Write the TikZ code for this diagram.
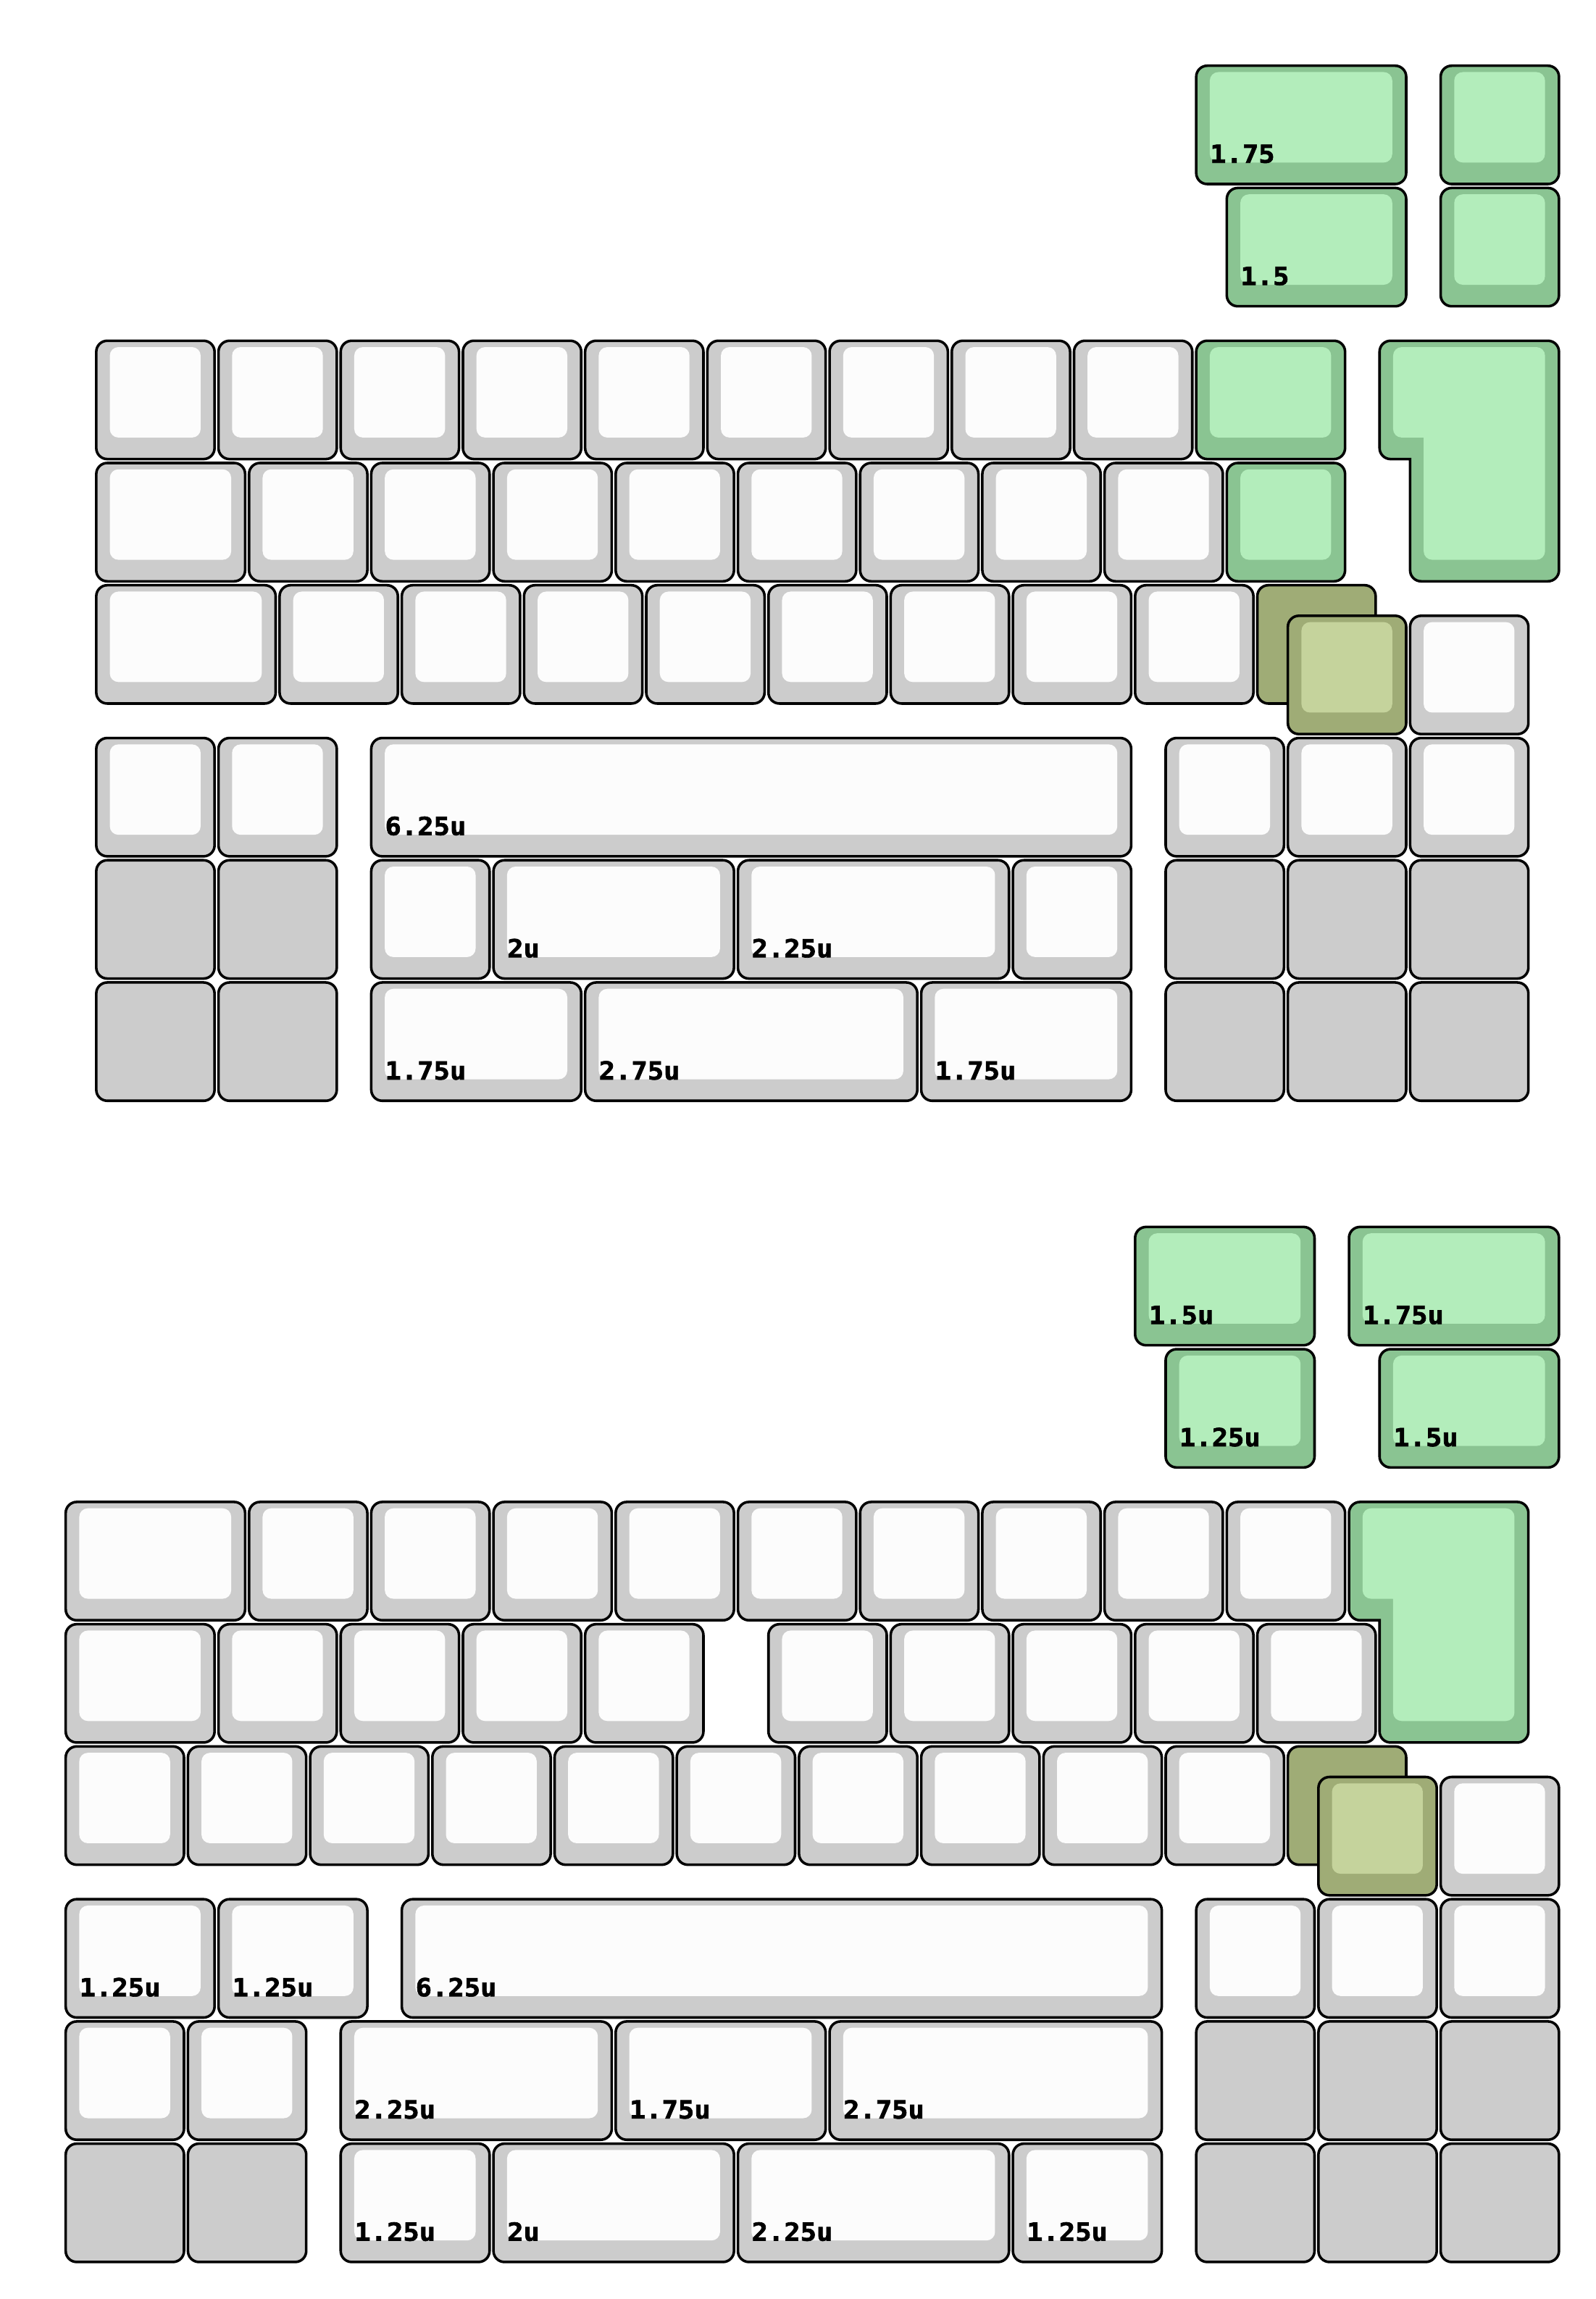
\documentclass[tikz,border=0pt]{standalone}
\usepackage{fontspec}
\newfontfamily\capfont{DejaVu Sans Mono}[FakeStretch=1.08, BoldFeatures={FakeBold=2}]

\definecolor{greybody}{HTML}{CCCCCC}
\definecolor{greytop}{HTML}{FCFCFC}
\definecolor{greenbody}{HTML}{8AC492}
\definecolor{greentop}{HTML}{B3EDBB}
\definecolor{olivebody}{HTML}{9FAC76}
\definecolor{olivetop}{HTML}{C5D39C}

\newcommand{\kg}{0.016}
% key with a top: x, y, width, body colour, top colour
\newcommand{\capkey}[5]{%
  \draw[capedge, fill=#4] (#1+\kg,#2+\kg) rectangle (#1+#3-\kg,#2+1-\kg);
  \fill[#5, captop] (#1+0.127,#2+0.068) rectangle (#1+#3-0.13,#2+0.808);
}
% key without a top
\newcommand{\flatkey}[3]{%
  \draw[capedge, fill=#3] (#1+\kg,#2+\kg) rectangle (#1+1-\kg,#2+1-\kg);
}
\newcommand{\capnote}[4]{\node[capnum] (#1) at (#2+0.122,#3+0.81) {#4};}
% iso enter, green
\newcommand{\isoenter}[2]{%
  \draw[capedge, fill=greenbody, line cap=rect] (#1+0.25+\kg,#2+1-\kg) -- (#1+\kg,#2+1-\kg) -- (#1+\kg,#2+\kg)
    -- (#1+1.5-\kg,#2+\kg) -- (#1+1.5-\kg,#2+2-\kg) -- (#1+0.25+\kg,#2+2-\kg) -- (#1+0.25+\kg,#2+1-\kg);
  \fill[greentop, captop] (#1+0.377,#2+0.808) -- (#1+0.127,#2+0.808) -- (#1+0.127,#2+0.068)
    -- (#1+1.37,#2+0.068) -- (#1+1.37,#2+1.808) -- (#1+0.377,#2+1.808) -- (#1+0.377,#2+0.808);
}

\begin{document}
\begin{tikzpicture}[
  x=1cm, y=-1cm,
  capedge/.style={draw=black, line width=0.6pt, rounded corners=0.09cm},
  captop/.style={rounded corners=0.07cm},
  capnum/.style={anchor=base west, inner sep=0pt, text=black, font=\capfont\bfseries\fontsize{5.8}{6.5}\selectfont}
]
\fill[white] (-0.5216,-0.5216) rectangle (12.537,18.287);
\useasboundingbox (-0.5216,-0.5216) rectangle (12.537,18.287);

% upper board
\capkey{9.25}{0}{1.75}{greenbody}{greentop} \capnote{ua175}{9.25}{0}{1.75}
\capkey{11.25}{0}{1}{greenbody}{greentop}
\capkey{9.5}{1}{1.5}{greenbody}{greentop} \capnote{ua15}{9.5}{1}{1.5}
\capkey{11.25}{1}{1}{greenbody}{greentop}

\foreach \x in {0.25,1.25,...,8.25} {\capkey{\x}{2.25}{1}{greybody}{greytop}}
\capkey{9.25}{2.25}{1.25}{greenbody}{greentop}
\isoenter{10.75}{2.25}

\capkey{0.25}{3.25}{1.25}{greybody}{greytop}
\foreach \x in {1.5,2.5,...,8.5} {\capkey{\x}{3.25}{1}{greybody}{greytop}}
\capkey{9.5}{3.25}{1}{greenbody}{greentop}

\capkey{0.25}{4.25}{1.5}{greybody}{greytop}
\foreach \x in {1.75,2.75,...,8.75} {\capkey{\x}{4.25}{1}{greybody}{greytop}}
\flatkey{9.75}{4.25}{olivebody}
\capkey{10}{4.5}{1}{olivebody}{olivetop}
\capkey{11}{4.5}{1}{greybody}{greytop}

\capkey{0.25}{5.5}{1}{greybody}{greytop}
\capkey{1.25}{5.5}{1}{greybody}{greytop}
\capkey{2.5}{5.5}{6.25}{greybody}{greytop} \capnote{ub625}{2.5}{5.5}{6.25u}
\foreach \x in {9,10,11} {\capkey{\x}{5.5}{1}{greybody}{greytop}}

\flatkey{0.25}{6.5}{greybody}
\flatkey{1.25}{6.5}{greybody}
\capkey{2.5}{6.5}{1}{greybody}{greytop}
\capkey{3.5}{6.5}{2}{greybody}{greytop} \capnote{ub2}{3.5}{6.5}{2u}
\capkey{5.5}{6.5}{2.25}{greybody}{greytop} \capnote{ub225}{5.5}{6.5}{2.25u}
\capkey{7.75}{6.5}{1}{greybody}{greytop}
\foreach \x in {9,10,11} {\flatkey{\x}{6.5}{greybody}}

\flatkey{0.25}{7.5}{greybody}
\flatkey{1.25}{7.5}{greybody}
\capkey{2.5}{7.5}{1.75}{greybody}{greytop} \capnote{ub175a}{2.5}{7.5}{1.75u}
\capkey{4.25}{7.5}{2.75}{greybody}{greytop} \capnote{ub275}{4.25}{7.5}{2.75u}
\capkey{7}{7.5}{1.75}{greybody}{greytop} \capnote{ub175b}{7}{7.5}{1.75u}
\foreach \x in {9,10,11} {\flatkey{\x}{7.5}{greybody}}

% lower board
\capkey{8.75}{9.5}{1.5}{greenbody}{greentop} \capnote{la15a}{8.75}{9.5}{1.5u}
\capkey{10.5}{9.5}{1.75}{greenbody}{greentop} \capnote{la175}{10.5}{9.5}{1.75u}
\capkey{9}{10.5}{1.25}{greenbody}{greentop} \capnote{la125}{9}{10.5}{1.25u}
\capkey{10.75}{10.5}{1.5}{greenbody}{greentop} \capnote{la15b}{10.75}{10.5}{1.5u}

\capkey{0}{11.75}{1.5}{greybody}{greytop}
\foreach \x in {1.5,2.5,...,9.5} {\capkey{\x}{11.75}{1}{greybody}{greytop}}
\isoenter{10.5}{11.75}

\capkey{0}{12.75}{1.25}{greybody}{greytop}
\foreach \x in {1.25,2.25,3.25,4.25,5.75,6.75,7.75,8.75,9.75} {\capkey{\x}{12.75}{1}{greybody}{greytop}}

\foreach \x in {0,...,9} {\capkey{\x}{13.75}{1}{greybody}{greytop}}
\flatkey{10}{13.75}{olivebody}
\capkey{10.25}{14}{1}{olivebody}{olivetop}
\capkey{11.25}{14}{1}{greybody}{greytop}

\capkey{0}{15}{1.25}{greybody}{greytop} \capnote{lb125a}{0}{15}{1.25u}
\capkey{1.25}{15}{1.25}{greybody}{greytop} \capnote{lb125b}{1.25}{15}{1.25u}
\capkey{2.75}{15}{6.25}{greybody}{greytop} \capnote{lb625}{2.75}{15}{6.25u}
\foreach \x in {9.25,10.25,11.25} {\capkey{\x}{15}{1}{greybody}{greytop}}

\capkey{0}{16}{1}{greybody}{greytop}
\capkey{1}{16}{1}{greybody}{greytop}
\capkey{2.25}{16}{2.25}{greybody}{greytop} \capnote{lb225a}{2.25}{16}{2.25u}
\capkey{4.5}{16}{1.75}{greybody}{greytop} \capnote{lb175}{4.5}{16}{1.75u}
\capkey{6.25}{16}{2.75}{greybody}{greytop} \capnote{lb275}{6.25}{16}{2.75u}
\foreach \x in {9.25,10.25,11.25} {\flatkey{\x}{16}{greybody}}

\flatkey{0}{17}{greybody}
\flatkey{1}{17}{greybody}
\capkey{2.25}{17}{1.25}{greybody}{greytop} \capnote{lb125c}{2.25}{17}{1.25u}
\capkey{3.5}{17}{2}{greybody}{greytop} \capnote{lb2}{3.5}{17}{2u}
\capkey{5.5}{17}{2.25}{greybody}{greytop} \capnote{lb225b}{5.5}{17}{2.25u}
\capkey{7.75}{17}{1.25}{greybody}{greytop} \capnote{lb125d}{7.75}{17}{1.25u}
\foreach \x in {9.25,10.25,11.25} {\flatkey{\x}{17}{greybody}}
\end{tikzpicture}
\end{document}
